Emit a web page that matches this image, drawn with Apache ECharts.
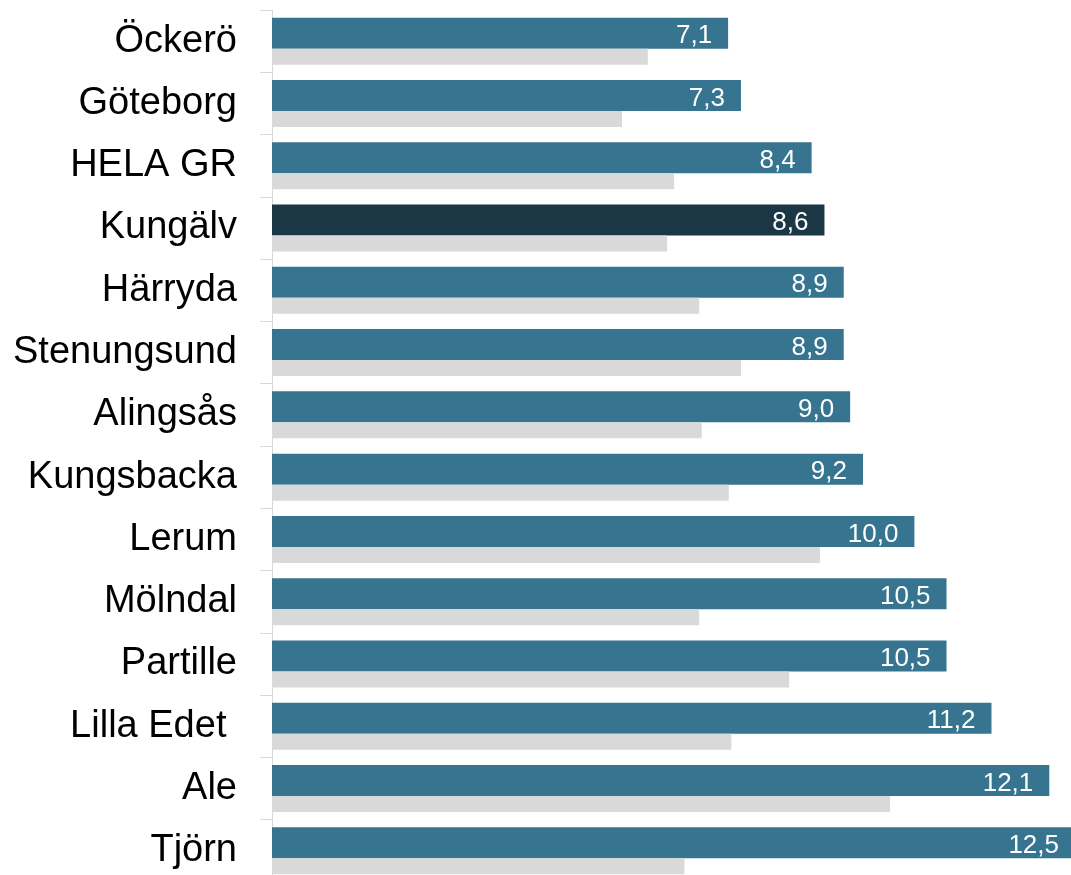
<!DOCTYPE html>
<html>
<head>
<meta charset="utf-8">
<script src="https://cdn.jsdelivr.net/npm/echarts@6/dist/echarts.min.js"></script>
<style>
  html, body { margin: 0; padding: 0; background: #fff; }
  #chart { width: 1071px; height: 875px; }
</style>
</head>
<body>
<div id="chart"></div>
<script>
'use strict';

// kommuner, uppifrån och ned
var categories = ['Öckerö', 'Göteborg', 'HELA GR', 'Kungälv', 'Härryda', 'Stenungsund', 'Alingsås',
    'Kungsbacka', 'Lerum', 'Mölndal', 'Partille', 'Lilla Edet ', 'Ale', 'Tjörn'];
// huvudserie (blå staplar med etikett)
var mainValues = [7.1, 7.3, 8.4, 8.6, 8.9, 8.9, 9.0, 9.2, 10.0, 10.5, 10.5, 11.2, 12.1, 12.5];
// jämförelseserie (grå staplar)
var compareValues = [5.85, 5.45, 6.26, 6.15, 6.65, 7.3, 6.69, 7.11, 8.53, 6.65, 8.05, 7.15, 9.62, 6.42];
var highlight = 'Kungälv';

var chart = echarts.init(document.getElementById('chart'));

var mainData = mainValues.map(function(v, i) {
    if (categories[i] === highlight) {
        return { value: v, itemStyle: { color: '#1b3745' } };
    }
    return v;
});

chart.setOption({
    animation: false,
    // sista kategorin går lite utanför bilden, som i originalet
    grid: { left: 272, right: -4, top: 10, bottom: -7, containLabel: false, outerBoundsMode: 'none' },
    xAxis: {
        type: 'value',
        min: 0,
        max: 12.5,
        show: false
    },
    yAxis: {
        type: 'category',
        data: categories,
        inverse: true,
        axisLine: { show: true, lineStyle: { color: '#d9d9d9', width: 1 } },
        axisTick: { show: true, length: 12, lineStyle: { color: '#d9d9d9' } },
        axisLabel: {
            margin: 35,
            fontFamily: 'Liberation Sans, Arial',
            fontSize: 38,
            color: '#000'
        }
    },
    series: [
        {
            type: 'bar',
            data: mainData,
            barWidth: 31,
            barGap: '0%',
            itemStyle: { color: '#36748f' },
            label: {
                show: true,
                position: 'insideRight',
                distance: 16,
                offset: [0, 3],
                color: '#fff',
                fontFamily: 'Liberation Sans, Arial',
                fontSize: 26,
                formatter: function(p) {
                    return p.value.toFixed(1).replace('.', ',');
                }
            }
        },
        {
            type: 'bar',
            data: compareValues,
            barWidth: 16,
            itemStyle: { color: '#d9d9d9' }
        }
    ]
});
</script>
</body>
</html>
